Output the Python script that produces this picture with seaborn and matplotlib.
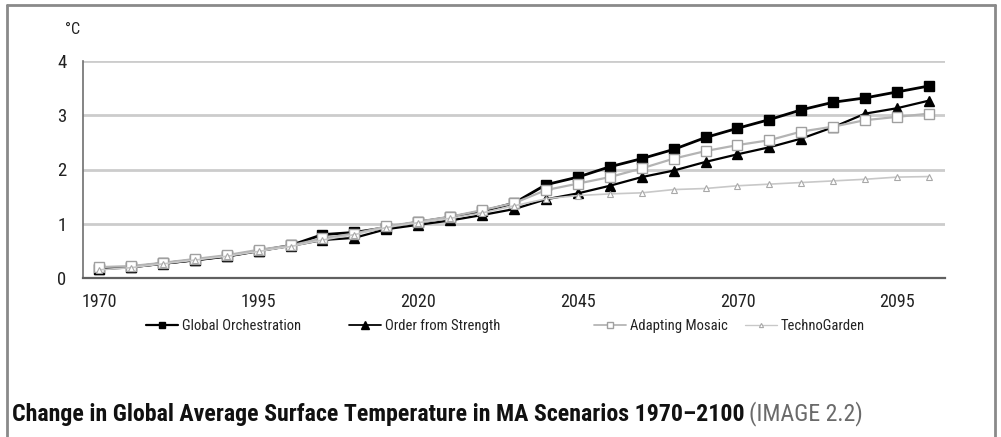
import matplotlib
matplotlib.use("Agg")
import matplotlib.pyplot as plt
from matplotlib import font_manager as fm
from matplotlib.lines import Line2D
import numpy as np
import seaborn as sns

years = list(range(1970, 2101, 5))
global_orchestration = [0.17, 0.20, 0.27, 0.33, 0.40, 0.50, 0.60, 0.80, 0.84, 0.93, 1.03, 1.12,
                        1.23, 1.38, 1.72, 1.86, 2.05, 2.20, 2.37, 2.59, 2.76, 2.92, 3.10, 3.24,
                        3.32, 3.43, 3.54]
order_from_strength = [0.17, 0.20, 0.26, 0.33, 0.40, 0.50, 0.59, 0.70, 0.74, 0.90, 0.98, 1.06,
                       1.16, 1.27, 1.45, 1.56, 1.70, 1.86, 1.98, 2.14, 2.28, 2.41, 2.57, 2.78,
                       3.03, 3.13, 3.27]
adapting_mosaic = [0.20, 0.22, 0.28, 0.35, 0.42, 0.52, 0.60, 0.73, 0.82, 0.95, 1.04, 1.13,
                   1.25, 1.38, 1.62, 1.74, 1.86, 2.02, 2.20, 2.34, 2.45, 2.54, 2.70, 2.79,
                   2.91, 2.97, 3.03]
techno_garden = [0.15, 0.19, 0.26, 0.33, 0.40, 0.49, 0.58, 0.70, 0.80, 0.93, 1.02, 1.10,
                 1.20, 1.33, 1.46, 1.52, 1.55, 1.57, 1.63, 1.65, 1.70, 1.73, 1.76, 1.79,
                 1.82, 1.86, 1.87]
label_years = [1970, 1995, 2020, 2045, 2070, 2095]
y_ticks = [0, 1, 2, 3, 4]
title = "Change in Global Average Surface Temperature in MA Scenarios 1970\u20132100"
title_note = "(IMAGE 2.2)"

sns.set_style("white")

# pick a narrow sans face if one is installed, otherwise fall back to Liberation Sans
entries = fm.fontManager.ttflist
names = {f.name for f in entries}
family, stretch = "Liberation Sans", "normal"
for cand in ["Liberation Sans Narrow", "Arial Narrow", "Roboto Condensed", "DejaVu Sans Condensed",
             "Open Sans Condensed", "Noto Sans Condensed"]:
    if cand in names:
        family = cand
        break
else:
    narrow = sorted(n for n in names if ("Narrow" in n or "Condensed" in n) and "Mono" not in n
                    and "Serif" not in n)
    if narrow:
        family = narrow[0]
    elif any(f.name == "DejaVu Sans" and "condensed" in str(f.stretch) for f in entries):
        family, stretch = "DejaVu Sans", "condensed"
plt.rcParams['font.family'] = [family, 'DejaVu Sans']
plt.rcParams['font.stretch'] = stretch

W, H = 1001, 437
fig = plt.figure(figsize=(W / 100, H / 100), dpi=100)
ax = fig.add_axes([83 / W, 1 - 278 / H, (945 - 83) / W, (278 - 61) / H])

series = [
    ("Global Orchestration", global_orchestration,
     dict(color="black", lw=2.0, marker="s", ms=6.5, mfc="black", mec="black", mew=1)),
    ("Order from Strength", order_from_strength,
     dict(color="black", lw=1.6, marker="^", ms=7, mfc="black", mec="black", mew=1)),
    ("Adapting Mosaic", adapting_mosaic,
     dict(color="#b4b4b4", lw=1.6, marker="s", ms=6.5, mfc="white", mec="#a0a0a0", mew=1)),
    ("TechnoGarden", techno_garden,
     dict(color="#c8c8c8", lw=1.2, marker="^", ms=4, mfc="white", mec="#a8a8a8", mew=0.8)),
]
for name, vals, kw in series:
    sns.lineplot(x=years, y=vals, ax=ax, clip_on=False, zorder=3, legend=False, **kw)

renderer = fig.canvas.get_renderer()


def fit_size(text, target_px, size0, **kw):
    t = fig.text(0, 0, text, fontsize=size0, **kw)
    w = t.get_window_extent(renderer).width
    t.remove()
    return size0 * target_px / w


ax.set_xlim(1967.5, 2102.5)
ax.set_ylim(0, 4)
ax.set_yticks(y_ticks)
ax.set_yticklabels([str(v) for v in y_ticks], fontsize=13.5, color="#222222")
ax.set_xticks(label_years)
ax.set_xticklabels([str(v) for v in label_years], fontsize=13, color="#222222")
ax.set_xticks(np.arange(1967.5, 2100, 25), minor=True)
ax.tick_params(axis="x", which="major", length=0, pad=11)
ax.tick_params(axis="x", which="minor", length=5, width=1, color="#707070", direction="out")
ax.tick_params(axis="y", length=5, width=1, color="#707070", direction="out", pad=7)
ax.grid(False)
for v in y_ticks[1:]:
    ax.axhline(v, color="#cccccc", lw=2, zorder=1)

for s in ["top", "right"]:
    ax.spines[s].set_visible(False)
ax.spines["left"].set_color("#707070")
ax.spines["left"].set_linewidth(1.2)
ax.spines["bottom"].set_color("#606060")
ax.spines["bottom"].set_linewidth(1.6)
ax.set_xlabel("")
ax.set_ylabel("")

fig.text(65 / W, 1 - 30 / H, "°C", fontsize=11.5, color="#222222", ha="left", va="center")

# legend: one entry per block, placed like the original row
leg_fs = 10.5
leg_px = leg_fs * 100 / 72
leg_x = [146, 349, 594, 745]
for (name, vals, kw), x0 in zip(series, leg_x):
    h = Line2D([], [], color=kw["color"], lw=kw["lw"] * 0.8, marker=kw["marker"],
               ms=kw["ms"] * 0.75, mfc=kw["mfc"], mec=kw["mec"], mew=kw["mew"])
    fig.legend([h], [name], loc="center left", bbox_to_anchor=(x0 / W, 1 - 326 / H),
               frameon=False, fontsize=leg_fs, handlelength=32 / leg_px,
               handletextpad=4 / leg_px, borderpad=0, borderaxespad=0,
               labelcolor="#222222")

title_fs = fit_size(title, 730, 15, fontweight="bold")
t = fig.text(12 / W, 1 - 414 / H, title, fontsize=title_fs, fontweight="bold",
             color="#111111", ha="left", va="center")
bb = t.get_window_extent(renderer)
fig.text((bb.x1 + 4) / W, 1 - 414 / H, title_note, fontsize=title_fs, color="#6a6a6a",
         ha="left", va="center")

# outer frame
gray = "#8a8a8a"
fig.add_artist(Line2D([7 / W, 7 / W], [0, 1 - 5 / H], color=gray, lw=2, transform=fig.transFigure))
fig.add_artist(Line2D([7 / W, 995 / W], [1 - 5 / H, 1 - 5 / H], color=gray, lw=2, transform=fig.transFigure))
fig.add_artist(Line2D([995 / W, 995 / W], [0, 1 - 5 / H], color=gray, lw=2, transform=fig.transFigure))

fig.savefig("out.png", dpi=100)
